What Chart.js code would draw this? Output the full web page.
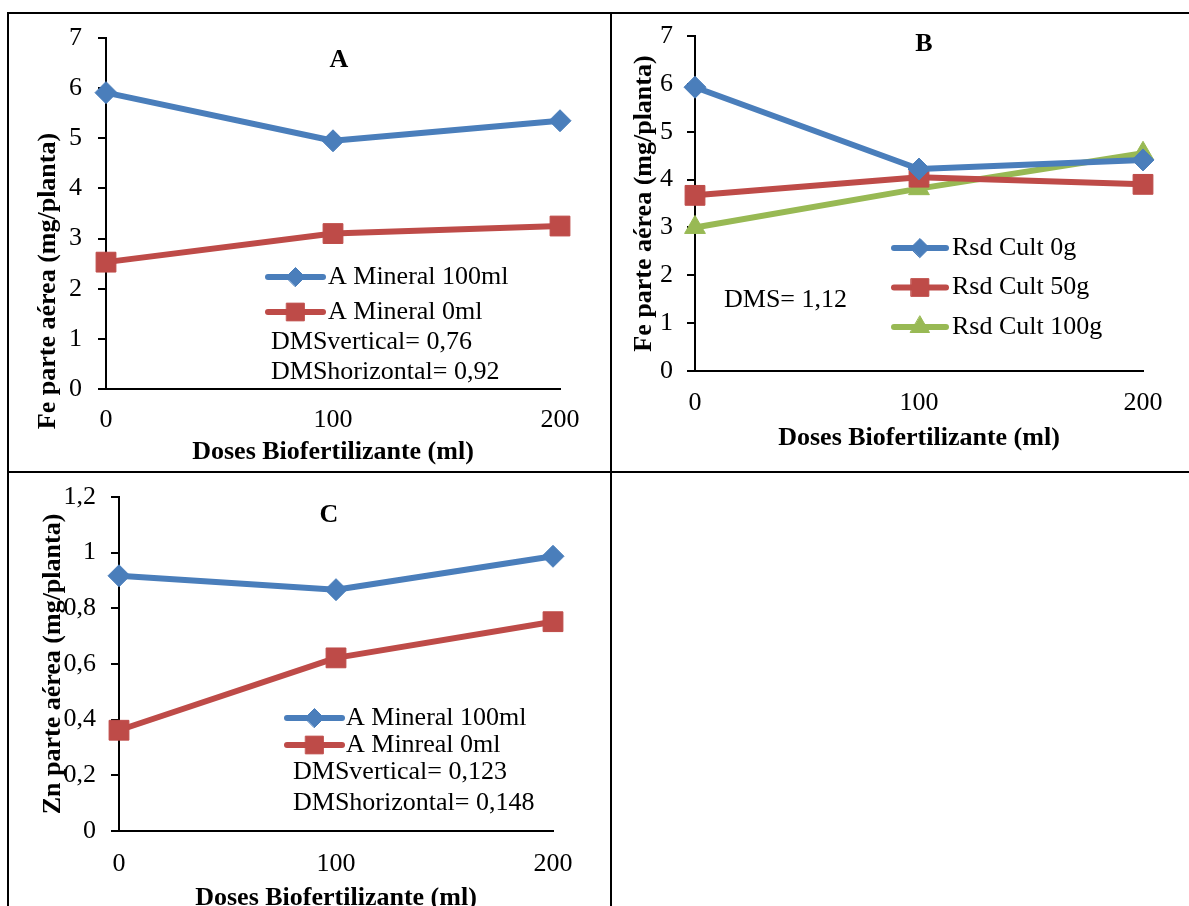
<!DOCTYPE html>
<html>
<head>
<meta charset="utf-8">
<script src="https://cdn.jsdelivr.net/npm/chart.js@4.4.1/dist/chart.umd.min.js"></script>
<style>
  html, body { margin: 0; padding: 0; background: #fff; overflow: hidden; }
  #page { position: relative; width: 1189px; height: 906px; overflow: hidden; }
  .line { position: absolute; background: #000; }
  .box { position: absolute; }
</style>
</head>
<body>
<div id="page">
  <div class="box" style="left:9px;top:15px;width:601px;height:456px"><canvas id="chartA"></canvas></div>
  <div class="box" style="left:613px;top:15px;width:576px;height:456px"><canvas id="chartB"></canvas></div>
  <div class="box" style="left:9px;top:474px;width:601px;height:445px"><canvas id="chartC"></canvas></div>

  <div class="line" style="left:7px;top:12px;width:1182px;height:2px"></div>
  <div class="line" style="left:7px;top:12px;width:2px;height:894px"></div>
  <div class="line" style="left:7px;top:471px;width:1182px;height:2px"></div>
  <div class="line" style="left:610px;top:12px;width:2px;height:894px"></div>
</div>

<script>
// x categories (doses of biofertilizer, ml)
const doses = [0, 100, 200];

// panel A - Fe, shoot (mg/plant)
const feMineral100 = [5.91, 4.95, 5.35];
const feMineral0 = [2.53, 3.10, 3.25];

// panel B - Fe, crop residue
const feRsd0 = [5.93, 4.22, 4.41];
const feRsd50 = [3.67, 4.05, 3.90];
const feRsd100 = [3.00, 3.81, 4.55];

// panel C - Zn, shoot (mg/plant)
const znMineral100 = [0.917, 0.867, 0.987];
const znMineral0 = [0.362, 0.622, 0.752];

const xTitle = "Doses Biofertilizante (ml)";

const serif = '"Liberation Serif", "Times New Roman", serif';
const tickFont = { family: serif, size: 26 };
const titleFont = { family: serif, size: 26, weight: 'bold' };

const BLUE = '#4A7EBB', RED = '#BE4B48', GREEN = '#98B954';

function series(label, data, color, style, radius, legendRadius) {
  return {
    label, data,
    borderColor: color, backgroundColor: color,
    borderWidth: 6, borderJoinStyle: 'round', borderCapStyle: 'round',
    pointStyle: style, pointRadius: radius, pointHoverRadius: radius,
    pointBackgroundColor: color, pointBorderColor: color, pointBorderWidth: 1,
    legendRadius, tension: 0, fill: false
  };
}
const blue = (label, data) => series(label, data, BLUE, 'rectRot', 11, 9.5);
const red = (label, data) => series(label, data, RED, 'rect', 14, 12.5);
const green = (label, data) => series(label, data, GREEN, 'triangle', 12, 11);

// legend inside the plot + loose texts (panel letter, DMS values)
const panelText = {
  id: 'panelText',
  afterDraw(chart, args, opts) {
    const ctx = chart.ctx;
    ctx.save();
    const lg = opts.legend;
    if (lg) {
      chart.data.datasets.forEach((ds, i) => {
        const y = lg.y + i * lg.dy;
        ctx.strokeStyle = ds.borderColor;
        ctx.lineWidth = ds.borderWidth;
        ctx.lineCap = 'round';
        ctx.beginPath();
        ctx.moveTo(lg.x, y);
        ctx.lineTo(lg.x + lg.len, y);
        ctx.stroke();
        ctx.fillStyle = ds.pointBackgroundColor;
        ctx.strokeStyle = ds.pointBorderColor;
        ctx.lineWidth = 1;
        Chart.helpers.drawPoint(ctx, { pointStyle: ds.pointStyle, radius: ds.legendRadius, borderWidth: 1, rotation: 0 }, lg.x + lg.len / 2, y);
        ctx.fillStyle = '#000';
        ctx.font = '26px ' + serif;
        ctx.textAlign = 'left';
        ctx.textBaseline = 'middle';
        ctx.fillText(ds.label, lg.x + lg.len + lg.gap, y);
      });
    }
    (opts.notes || []).forEach(n => {
      ctx.save();
      ctx.fillStyle = '#000';
      ctx.font = (n.bold ? 'bold ' : '') + '26px ' + serif;
      ctx.textAlign = n.align || 'left';
      ctx.textBaseline = 'middle';
      ctx.translate(n.x, n.y);
      if (n.rotate) ctx.rotate(n.rotate * Math.PI / 180);
      ctx.fillText(n.text, 0, 0);
      ctx.restore();
    });
    ctx.restore();
  }
};

function makeChart(id, datasets, o) {
  return new Chart(document.getElementById(id), {
    type: 'line',
    data: { labels: doses, datasets },
    plugins: [panelText],
    options: {
      responsive: true,
      maintainAspectRatio: false,
      animation: false,
      layout: { padding: { left: 0, top: o.top, right: o.right, bottom: 0 } },
      plugins: {
        legend: { display: false },
        tooltip: { enabled: false },
        panelText: { legend: o.legend, notes: o.notes }
      },
      scales: {
        x: {
          offset: false,
          grid: { display: false, drawTicks: false },
          border: { display: true, color: '#000', width: 2 },
          ticks: { font: tickFont, color: '#000', padding: o.xPad, maxRotation: 0, autoSkip: false },
          title: { display: true, text: xTitle, font: titleFont, color: '#000', padding: { top: 0, bottom: o.xTitlePad } },
          afterFit: s => { s.height = o.xHeight; }
        },
        y: {
          min: o.yMin, max: o.yMax,
          ticks: { stepSize: o.yStep, font: tickFont, color: '#000', padding: o.yPad, callback: o.yFmt },
          grid: { drawOnChartArea: false, drawTicks: true, tickLength: 8, color: '#000', lineWidth: 2 },
          border: { display: true, color: '#000', width: 2 },
          title: o.yTitle ? { display: true, text: o.yTitle, font: titleFont, color: '#000', padding: { top: o.yTitlePad, bottom: 0 } } : { display: false },
          afterFit: s => { s.width = o.yWidth; s.paddingTop = 0; s.paddingBottom = 0; }
        }
      }
    }
  });
}

const intFmt = v => String(v);
const decFmt = v => String(Math.round(v * 10) / 10).replace('.', ',');

makeChart('chartA', [
  blue('A Mineral 100ml', feMineral100),
  red('A Mineral 0ml', feMineral0)
], {
  top: 23, right: 50, xHeight: 82, yWidth: 97,
  xPad: 16, xTitlePad: 3, yPad: 16,
  yMin: 0, yMax: 7, yStep: 1, yFmt: intFmt,
  legend: { x: 259, y: 262, dy: 35, len: 55, gap: 5 },
  notes: [
    { text: 'A', x: 330, y: 45, bold: true, align: 'center' },
    { text: 'Fe parte aérea (mg/planta)', x: 39, y: 266, bold: true, align: 'center', rotate: -90 },
    { text: 'DMSvertical= 0,76', x: 262, y: 327 },
    { text: 'DMShorizontal= 0,92', x: 262, y: 357 }
  ]
});

makeChart('chartB', [
  blue('Rsd Cult 0g', feRsd0),
  red('Rsd Cult 50g', feRsd50),
  green('Rsd Cult 100g', feRsd100)
], {
  top: 21, right: 46, xHeight: 100, yWidth: 82,
  xPad: 17, xTitlePad: 17, yPad: 14,
  yMin: 0, yMax: 7, yStep: 1, yFmt: intFmt,
  yTitle: 'Fe parte aérea (mg/planta)', yTitlePad: 16,
  legend: { x: 281, y: 233, dy: 39.5, len: 52, gap: 6 },
  notes: [
    { text: 'B', x: 311, y: 29, bold: true, align: 'center' },
    { text: 'DMS= 1,12', x: 111, y: 285 }
  ]
});

makeChart('chartC', [
  blue('A Mineral 100ml', znMineral100),
  red('A Minreal 0ml', znMineral0)
], {
  top: 23, right: 57, xHeight: 88, yWidth: 110,
  xPad: 18, xTitlePad: 5, yPad: 15,
  yMin: 0, yMax: 1.2, yStep: 0.2, yFmt: decFmt,
  yTitle: 'Zn parte aérea (mg/planta)', yTitlePad: 29,
  legend: { x: 278, y: 244, dy: 27, len: 55, gap: 4 },
  notes: [
    { text: 'C', x: 320, y: 41, bold: true, align: 'center' },
    { text: 'DMSvertical= 0,123', x: 284, y: 298 },
    { text: 'DMShorizontal= 0,148', x: 284, y: 329 }
  ]
});
</script>
</body>
</html>
